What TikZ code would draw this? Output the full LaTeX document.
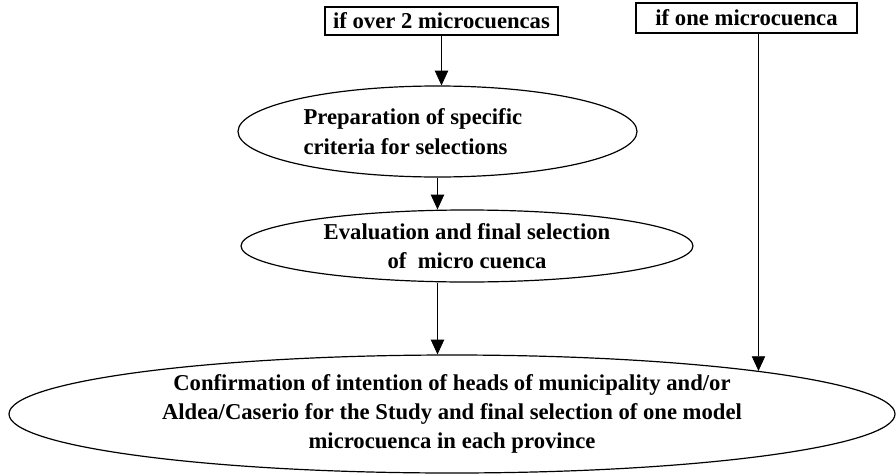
\documentclass[tikz,border=0pt]{standalone}
\usepackage{fontspec}
\setmainfont{Liberation Serif}
\usetikzlibrary{positioning,arrows.meta,shapes.geometric,calc}

\begin{document}
\begin{tikzpicture}[
  x=0.75pt, y=-0.75pt,
  font=\fontsize{17}{22}\selectfont\bfseries,
  cond/.style={draw, line width=1.1pt, inner sep=0pt},
  oval/.style={ellipse, draw, line width=0.9pt, inner sep=-4pt},
  ar/.style={-{Triangle[length=11pt,width=10pt]}, line width=0.6pt},
]
\useasboundingbox (0,0) rectangle (896,475);

\node[cond, minimum width=174.75pt, minimum height=21pt]   (over) at (441.5,21) {if over 2 microcuencas};
\node[cond, minimum width=165.75pt, minimum height=22.5pt] (one)  at (746.5,18) {if one microcuenca};

\node[oval, minimum width=299.25pt, minimum height=68.25pt, align=left] (prep) at (437.5,131.5)
  {Preparation of specific\hspace*{37pt}\\criteria for selections};
\node[oval, minimum width=339pt, minimum height=54pt, align=center] (eval) at (467,246)
  {Evaluation and final selection\\of\ \ micro cuenca};
\node[oval, minimum width=664.5pt, minimum height=88.5pt, align=center] (conf) at (452,414)
  {Confirmation of intention of heads of municipality and/or\\
   Aldea/Caserio for the Study and final selection of one model\\
   microcuenca in each province};

\draw[ar] (over.south) -- (over.south |- prep.north);
\draw[ar] (prep.south) -- (prep.south |- eval.north);
\draw[ar] (eval.south -| prep.south) -- (prep.south |- conf.north);
% single microcuenca goes straight to the final step
\draw[ar] (conf.8 |- one.south) -- (conf.8);
\end{tikzpicture}
\end{document}
